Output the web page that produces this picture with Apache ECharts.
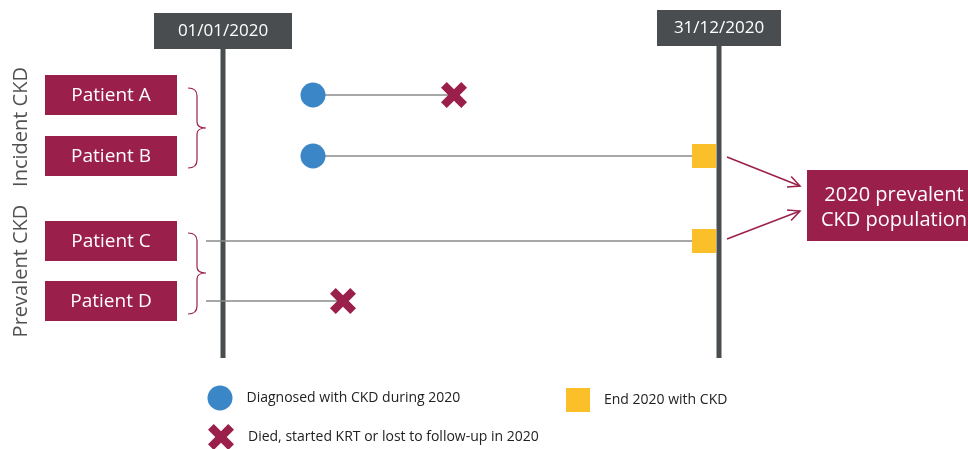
<!DOCTYPE html>
<html style="height: 100%">

<head>
    <meta charset="utf-8">
</head>

<body style="height: 100%; margin: 0; background: #fff">
    <div id="container" style="height: 100%"></div>
    <script type="text/javascript" src="https://cdn.jsdelivr.net/npm/echarts@6/dist/echarts.min.js"></script>

    <script type="text/javascript">
        // data, in the units of the (hidden) axes
        var patients = ['Patient A', 'Patient B', 'Patient C', 'Patient D'];
        var patientRow = [95, 156, 241, 301];
        var followStart = [313, 313, 206, 206];
        var followEnd = [454, 704, 704, 343];
        var diagnosed = [[313, 95], [313, 156]];
        var endWithCkd = [[704, 156], [704, 241]];
        var died = [[454, 95], [343, 301]];
        var timelineX = [223, 719];
        var timelineLabels = ['01/01/2020', '31/12/2020'];
        var groupLabels = ['Incident CKD', 'Prevalent CKD'];
        var groupCenter = [127, 271];
        var braces = [[188, 88, 168, 128], [188, 233, 314, 273]];
        var arrows = [[727, 157, 800, 186], [727, 239, 800, 211]];
        var resultLabel = '2020 prevalent\nCKD population';
        var legendItems = ['Diagnosed with CKD during 2020', 'End 2020 with CKD', 'Died, started KRT or lost to follow-up in 2020'];

        var RED = '#9b1f4b';
        var BLUE = '#3a86c6';
        var YELLOW = '#fbbf2a';
        var DARK = '#4a4d4f';
        var FONT = 'Open Sans';
        var crossPath = 'path://M0,22 L22,0 L50,28 L78,0 L100,22 L72,50 L100,78 L78,100 L50,72 L22,100 L0,78 L28,50Z';

        var dom = document.getElementById("container");
        var myChart = echarts.init(dom);

        var series = [];

        // timelines
        timelineX.forEach(function (x, i) {
            series.push({
                type: 'line', symbol: 'none', silent: true, z: 2,
                lineStyle: { color: DARK, width: 5 },
                data: [[x, i == 0 ? 48 : 46], [x, 358]]
            });
        });
        series.push({
            type: 'scatter', symbol: 'rect', silent: true, z: 3,
            symbolSize: function (v, p) { return p.dataIndex == 0 ? [138, 36] : [124, 36]; },
            itemStyle: { color: DARK, opacity: 1 },
            label: { show: true, position: 'inside', color: '#fff', fontSize: 17, fontFamily: FONT, formatter: function (p) { return timelineLabels[p.dataIndex]; } },
            data: [[timelineX[0], 31], [timelineX[1], 28]]
        });

        // follow-up lines
        patients.forEach(function (name, i) {
            series.push({
                type: 'line', symbol: 'none', silent: true, z: 4,
                lineStyle: { color: '#8a8a8a', width: 1.5 },
                data: [[followStart[i], patientRow[i]], [followEnd[i], patientRow[i]]]
            });
        });

        // patient boxes
        series.push({
            type: 'scatter', symbol: 'rect', symbolSize: [132, 40], silent: true, z: 5,
            itemStyle: { color: RED, opacity: 1, borderRadius: 2 },
            label: { show: true, position: 'inside', offset: [0, 1], color: '#fff', fontSize: 19, fontFamily: FONT, formatter: function (p) { return patients[p.dataIndex]; } },
            data: patientRow.map(function (y) { return [111, y]; })
        });

        // group labels (rotated)
        series.push({
            type: 'scatter', symbolSize: 0, silent: true,
            label: { show: true, position: 'inside', rotate: 90, color: '#262626', fontSize: 20, fontFamily: FONT, formatter: function (p) { return groupLabels[p.dataIndex]; } },
            data: groupCenter.map(function (y) { return [21, y]; })
        });

        // markers
        series.push({
            type: 'scatter', symbol: 'circle', symbolSize: 25, z: 6, silent: true,
            itemStyle: { color: BLUE, opacity: 1 }, data: diagnosed
        });
        series.push({
            type: 'scatter', symbol: 'rect', symbolSize: 24, z: 6, silent: true,
            itemStyle: { color: YELLOW, opacity: 1, borderRadius: 1 }, data: endWithCkd
        });
        series.push({
            type: 'scatter', symbol: crossPath, symbolSize: 26, z: 6, silent: true,
            itemStyle: { color: RED, opacity: 1 }, data: died
        });

        // braces
        series.push({
            type: 'custom', silent: true, clip: false, z: 4,
            renderItem: function (params, api) {
                var a = api.coord([api.value(0), api.value(1)]);
                var b = api.coord([api.value(0), api.value(2)]);
                var m = api.coord([api.value(0), api.value(3)]);
                var x0 = a[0], xm = x0 + 9, x1 = x0 + 18;
                var d = 'M' + x0 + ',' + a[1] + ' Q' + xm + ',' + a[1] + ' ' + xm + ',' + (a[1] + 8) +
                    ' L' + xm + ',' + (m[1] - 6) + ' Q' + xm + ',' + m[1] + ' ' + x1 + ',' + m[1] +
                    ' Q' + xm + ',' + m[1] + ' ' + xm + ',' + (m[1] + 6) +
                    ' L' + xm + ',' + (b[1] - 8) + ' Q' + xm + ',' + b[1] + ' ' + x0 + ',' + b[1];
                return { type: 'path', shape: { pathData: d }, style: { fill: 'none', stroke: RED, lineWidth: 1.2 } };
            },
            encode: { x: 0, y: 1 },
            data: braces
        });

        // arrows
        series.push({
            type: 'custom', silent: true, clip: false, z: 4,
            renderItem: function (params, api) {
                var p = api.coord([api.value(0), api.value(1)]);
                var q = api.coord([api.value(2), api.value(3)]);
                var ang = Math.atan2(q[1] - p[1], q[0] - p[0]);
                var h = 13, s = 0.45;
                var l = [q[0] - h * Math.cos(ang - s), q[1] - h * Math.sin(ang - s)];
                var r = [q[0] - h * Math.cos(ang + s), q[1] - h * Math.sin(ang + s)];
                return {
                    type: 'group', children: [
                        { type: 'line', shape: { x1: p[0], y1: p[1], x2: q[0], y2: q[1] }, style: { stroke: RED, lineWidth: 1.5 } },
                        { type: 'polyline', shape: { points: [l, q, r] }, style: { stroke: RED, lineWidth: 1.5, fill: 'none' } }
                    ]
                };
            },
            encode: { x: 0, y: 1 },
            data: arrows
        });

        // result box
        series.push({
            type: 'scatter', symbol: 'rect', symbolSize: [172, 71], silent: true, z: 5,
            itemStyle: { color: RED, opacity: 1 },
            label: { show: true, position: 'inside', offset: [1, 2], color: '#fff', fontSize: 20, lineHeight: 25, fontFamily: FONT, formatter: resultLabel },
            data: [[893, 205.5]]
        });

        // legend
        var legendLabel = function (i) {
            return { show: true, position: 'right', distance: 14, color: '#222', fontSize: 14, fontFamily: FONT, formatter: legendItems[i] };
        };
        series.push({
            type: 'scatter', symbol: 'circle', symbolSize: 25, silent: true,
            itemStyle: { color: BLUE, opacity: 1 }, label: legendLabel(0), data: [[220, 398]]
        });
        series.push({
            type: 'scatter', symbol: 'rect', symbolSize: 24, silent: true,
            itemStyle: { color: YELLOW, opacity: 1 }, label: legendLabel(1), data: [[578, 400]]
        });
        series.push({
            type: 'scatter', symbol: crossPath, symbolSize: 26, silent: true,
            itemStyle: { color: RED, opacity: 1 }, label: legendLabel(2), data: [[221, 437]]
        });

        var option = {
            animation: false,
            backgroundColor: '#fff',
            grid: { left: 0, right: 0, top: 0, bottom: 0 },
            xAxis: { type: 'value', min: 0, max: 968, show: false },
            yAxis: { type: 'value', min: 0, max: 449, inverse: true, show: false },
            series: series
        };

        myChart.setOption(option);
    </script>
</body>

</html>
